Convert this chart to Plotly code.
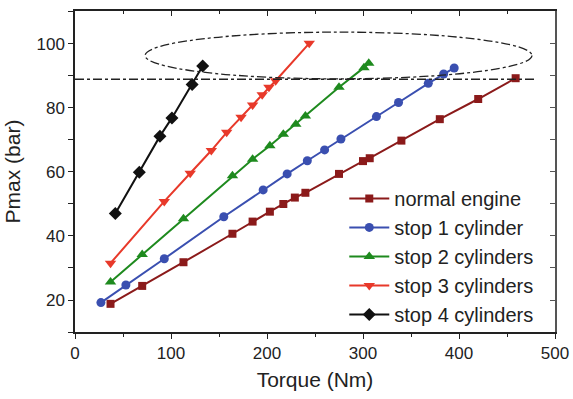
import plotly.graph_objects as go

# Data (Torque in Nm, Pmax in bar)
normal_T = [37, 70, 113, 164, 185, 203, 217, 229, 240, 275, 300, 307, 340, 380, 420, 459]
normal_P = [18.8, 24.4, 31.8, 40.7, 44.5, 47.6, 50.0, 52.0, 53.5, 59.4, 63.4, 64.3, 69.8, 76.5, 82.8, 89.3]

stop1_T = [27, 53, 93, 155, 196, 221, 242, 260, 277, 314, 337, 368, 384, 395]
stop1_P = [19.2, 24.7, 32.9, 46.0, 54.4, 59.4, 63.5, 66.9, 70.3, 77.3, 81.7, 87.7, 90.6, 92.5]

stop2_T = [37, 70, 113, 164, 185, 203, 217, 230, 240, 275, 301, 306]
stop2_P = [25.6, 34.2, 45.4, 58.8, 64.0, 68.2, 71.8, 74.9, 77.5, 86.5, 92.6, 94.0]

stop3_T = [37, 93, 120, 142, 158, 173, 185, 195, 202, 209, 244]
stop3_P = [31.5, 50.8, 59.6, 66.7, 72.4, 77.1, 80.9, 84.1, 86.5, 88.5, 100.2]

stop4_T = [42, 67, 88.5, 101, 122, 133]
stop4_P = [47.0, 59.9, 71.2, 76.9, 87.3, 93.1]

names = ["normal engine", "stop 1 cylinder", "stop 2 cylinders", "stop 3 cylinders", "stop 4 cylinders"]
colors = ["#8B1A1A", "#3A4FB0", "#1E8A1E", "#E8392A", "#111111"]
symbols = ["square", "circle", "triangle-up", "triangle-down", "diamond"]
sizes = [8, 9, 10, 10, 10]

# Reference line and highlight ellipse (data coords)
limit_P = 89
limit_T_end = 481
ell_T = [73, 476]
ell_P = [89.1, 103.7]

x_ticks = [0, 100, 200, 300, 400, 500]
y_ticks = [20, 40, 60, 80, 100]

series = [(normal_T, normal_P), (stop1_T, stop1_P), (stop2_T, stop2_P), (stop3_T, stop3_P), (stop4_T, stop4_P)]

fig = go.Figure()
for (xs, ys), n, c, s, sz in zip(series, names, colors, symbols, sizes):
    fig.add_trace(go.Scatter(x=xs, y=ys, mode="lines+markers", name=n,
                             line=dict(color=c, width=2),
                             marker=dict(symbol=s, size=sz, color=c)))

# invisible helper trace so the mirrored top/right axes are drawn
fig.add_trace(go.Scatter(x=normal_T, y=normal_P, xaxis="x2", yaxis="y2", mode="markers",
                         marker=dict(opacity=0), showlegend=False, hoverinfo="skip"))

fig.add_shape(type="line", x0=0, x1=limit_T_end, y0=limit_P, y1=limit_P,
              xref="x", yref="y", line=dict(color="#222", width=1.5, dash="dashdot"))
fig.add_shape(type="circle", x0=ell_T[0], x1=ell_T[1], y0=ell_P[0], y1=ell_P[1],
              xref="x", yref="y", line=dict(color="#222", width=1.3, dash="dashdot"))

axis_font = dict(family="Liberation Sans, Arial", size=17, color="#222")
fig.update_layout(
    width=573, height=399,
    margin=dict(l=75, r=18, t=11, b=67),
    plot_bgcolor="white", paper_bgcolor="white",
    font=dict(family="Liberation Sans, Arial", color="#222"),
    showlegend=True,
    legend=dict(x=0.561, y=0.477, xanchor="left", yanchor="top",
                bgcolor="rgba(0,0,0,0)", font=dict(size=20, color="#222"),
                itemwidth=40),
    xaxis=dict(range=[0, 500], tickvals=x_ticks, automargin=False,
               ticks="outside", ticklen=5, tickwidth=1.2, tickcolor="#222",
               minor=dict(dtick=50, ticks="outside", ticklen=3, tickcolor="#222"),
               showline=True, linecolor="#222", linewidth=1.5,
               showgrid=False, zeroline=False, tickfont=axis_font,
               title=dict(text="Torque (Nm)", font=dict(size=21), standoff=10)),
    yaxis=dict(range=[10, 110.3], tickvals=y_ticks, automargin=False,
               ticks="outside", ticklen=5, tickwidth=1.2, tickcolor="#222",
               minor=dict(dtick=10, tick0=10, ticks="outside", ticklen=5, tickcolor="#222"),
               showline=True, linecolor="#222", linewidth=1.5,
               showgrid=False, zeroline=False, tickfont=axis_font,
               title=dict(text="Pmax (bar)", font=dict(size=21), standoff=10)),
    xaxis2=dict(overlaying="x", matches="x", side="top", anchor="y", automargin=False,
                tickvals=x_ticks, showticklabels=False,
                ticks="inside", ticklen=5, tickwidth=1.2, tickcolor="#222",
                minor=dict(dtick=50, ticks="inside", ticklen=3, tickcolor="#222"),
                showline=True, linecolor="#222", linewidth=1.5,
                showgrid=False, zeroline=False),
    yaxis2=dict(overlaying="y", matches="y", side="right", anchor="x", automargin=False,
                tickvals=y_ticks, showticklabels=False,
                ticks="inside", ticklen=5, tickwidth=1.2, tickcolor="#555",
                minor=dict(dtick=10, tick0=10, ticks="inside", ticklen=5, tickcolor="#555"),
                showline=True, linecolor="#555", linewidth=1.8,
                showgrid=False, zeroline=False),
)

fig.write_html("out.html")
